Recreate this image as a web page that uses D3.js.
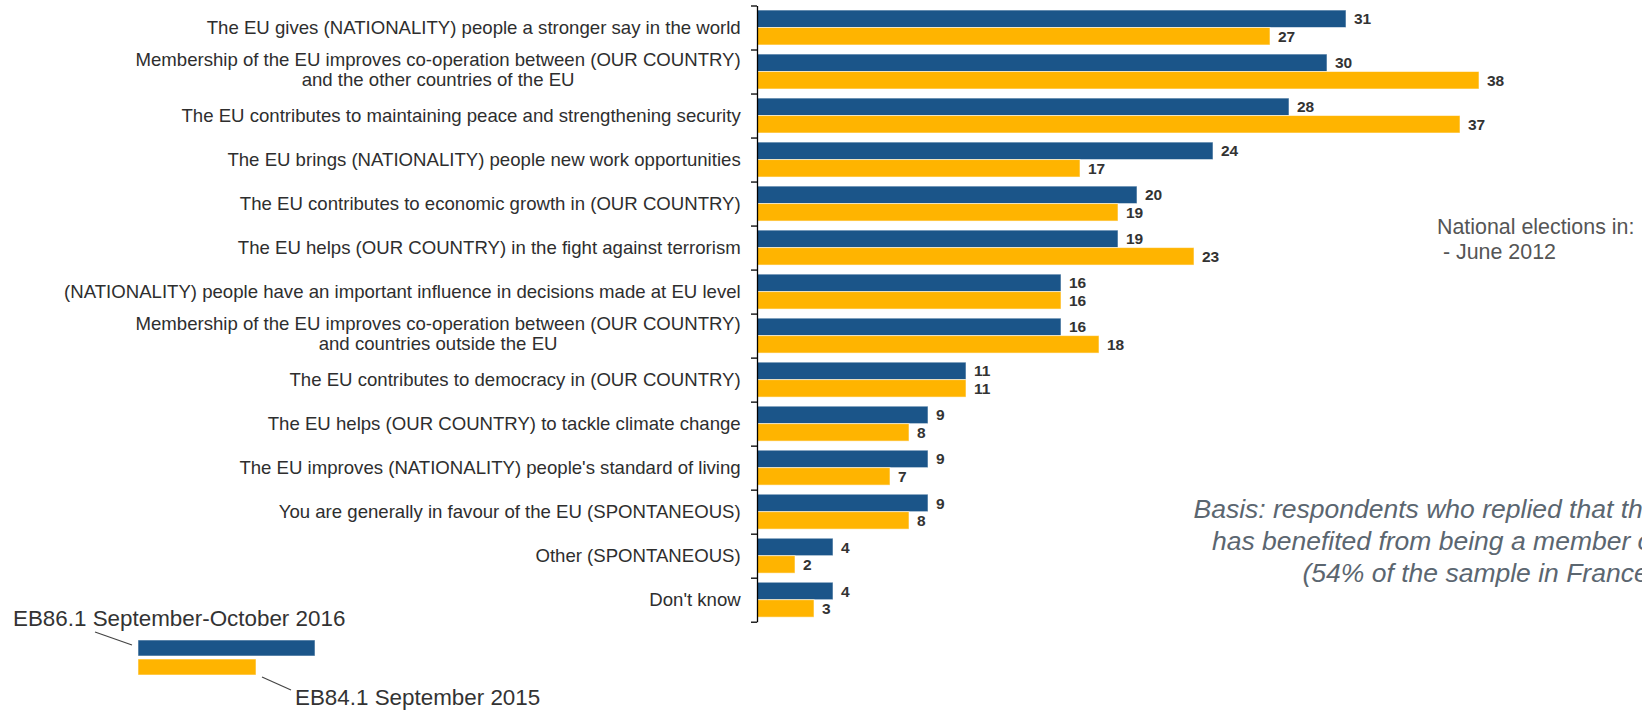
<!DOCTYPE html>
<html>
<head>
<meta charset="utf-8">
<script src="https://cdn.jsdelivr.net/npm/d3@7"></script>
<style>
  html, body { margin: 0; padding: 0; background: #fff; }
  svg { display: block; font-family: Arial, "Liberation Sans", sans-serif; }
</style>
</head>
<body>
<div id="chart"></div>
<script>
const categories = [
  "The EU gives (NATIONALITY) people a stronger say in the world",
  "Membership of the EU improves co-operation between (OUR COUNTRY)\nand the other countries of the EU",
  "The EU contributes to maintaining peace and strengthening security",
  "The EU brings (NATIONALITY) people new work opportunities",
  "The EU contributes to economic growth in (OUR COUNTRY)",
  "The EU helps (OUR COUNTRY) in the fight against terrorism",
  "(NATIONALITY) people have an important influence in decisions made at EU level",
  "Membership of the EU improves co-operation between (OUR COUNTRY)\nand countries outside the EU",
  "The EU contributes to democracy in (OUR COUNTRY)",
  "The EU helps (OUR COUNTRY) to tackle climate change",
  "The EU improves (NATIONALITY) people's standard of living",
  "You are generally in favour of the EU (SPONTANEOUS)",
  "Other (SPONTANEOUS)",
  "Don't know"
];
const eb861 = [31, 30, 28, 24, 20, 19, 16, 16, 11, 9, 9, 9, 4, 4];
const eb841 = [27, 38, 37, 17, 19, 23, 16, 18, 11, 8, 7, 8, 2, 3];
const seriesNames = ["EB86.1 September-October 2016", "EB84.1 September 2015"];
const seriesColors = ["#1b5589", "#ffb400"];
const electionNote = ["National elections in:", " - June 2012"];
const basisNote = [
  "Basis: respondents who replied that their country",
  "has benefited from being a member of the EU",
  "(54% of the sample in France)"
];

const width = 1642, height = 711;
const axisX = 757, yTop = 5.5, yBottom = 621.7;

const svg = d3.select("#chart").append("svg")
  .attr("width", width)
  .attr("height", height);

const x = d3.scaleLinear().domain([0, 40]).range([axisX, axisX + 760]);
const y = d3.scaleBand().domain(d3.range(categories.length)).range([yTop, yBottom]).padding(0);
const sub = d3.scaleBand().domain([0, 1]).range([0, y.bandwidth()]).paddingOuter(0.26).paddingInner(0);

const rows = categories.map((c, i) => ({ i, label: c, vals: [eb861[i], eb841[i]] }));

// bars
const row = svg.append("g").selectAll("g")
  .data(rows)
  .join("g")
  .attr("transform", d => `translate(0,${y(d.i)})`);

row.selectAll("rect")
  .data(d => d.vals.map((v, s) => ({ v, s })))
  .join("rect")
  .attr("x", x(0))
  .attr("y", d => sub(d.s))
  .attr("width", d => x(d.v) - x(0))
  .attr("height", sub.bandwidth())
  .attr("fill", d => seriesColors[d.s])
  .attr("stroke", "rgba(255,255,255,0.55)")
  .attr("stroke-width", 1);

row.selectAll("text.val")
  .data(d => d.vals.map((v, s) => ({ v, s })))
  .join("text")
  .attr("class", "val")
  .attr("x", d => x(d.v) + 8)
  .attr("y", d => sub(d.s) + sub.bandwidth() / 2)
  .attr("dy", "0.36em")
  .attr("font-size", 15.5)
  .attr("font-weight", "bold")
  .attr("fill", "#333")
  .text(d => d.v);

// axis with ticks between categories
const idx = d3.scaleLinear().domain([0, categories.length]).range([yTop, yBottom]);
svg.append("g")
  .attr("transform", `translate(${axisX},0)`)
  .call(d3.axisLeft(idx).tickValues(d3.range(categories.length + 1)).tickFormat("").tickSizeInner(6).tickSizeOuter(0))
  .call(g => g.selectAll("path, line").attr("stroke", "#000").attr("stroke-width", 1.3));

// category labels
const labelRight = 740.7;
row.each(function(d) {
  const lines = d.label.split("\n");
  const g = d3.select(this).append("g").attr("font-size", 18.6).attr("fill", "#2e2e2e");
  const n = lines.length;
  const cy = y.bandwidth() / 2;
  const texts = lines.map((ln, k) => g.append("text")
    .attr("y", cy + 6 - (n - 1) * 10.25 - (n > 1 ? 1.5 : 0) + k * 20.5)
    .text(ln));
  const widths = texts.map(t => t.node().getComputedTextLength());
  const maxW = d3.max(widths);
  texts.forEach(t => t.attr("text-anchor", "middle").attr("x", labelRight - maxW / 2));
});

// legend
const lg = svg.append("g");
lg.append("rect").attr("x", 138).attr("y", 640).attr("width", 177).attr("height", 16).attr("fill", seriesColors[0])
  .attr("stroke", "rgba(255,255,255,0.55)");
lg.append("rect").attr("x", 138).attr("y", 659).attr("width", 118).attr("height", 16).attr("fill", seriesColors[1])
  .attr("stroke", "rgba(255,255,255,0.55)");
lg.append("line").attr("x1", 95).attr("y1", 632).attr("x2", 132).attr("y2", 645).attr("stroke", "#444").attr("stroke-width", 1.2);
lg.append("line").attr("x1", 262).attr("y1", 677).attr("x2", 291).attr("y2", 690).attr("stroke", "#444").attr("stroke-width", 1.2);
lg.append("text").attr("x", 13).attr("y", 626).attr("font-size", 22.4).attr("fill", "#333").text(seriesNames[0]);
lg.append("text").attr("x", 295).attr("y", 705).attr("font-size", 22.4).attr("fill", "#333").text(seriesNames[1]);

// notes
svg.append("g").attr("font-size", 21.4).attr("fill", "#555")
  .selectAll("text").data(electionNote).join("text")
  .attr("x", 1437)
  .attr("y", (d, i) => 234 + i * 25)
  .style("white-space", "pre")
  .text(d => d);

svg.append("g").attr("font-size", 26.5).attr("font-style", "italic").attr("fill", "#5b6670")
  .attr("text-anchor", "middle")
  .selectAll("text").data(basisNote).join("text")
  .attr("x", 1480)
  .attr("y", (d, i) => 518 + i * 32)
  .text(d => d);
</script>
</body>
</html>
